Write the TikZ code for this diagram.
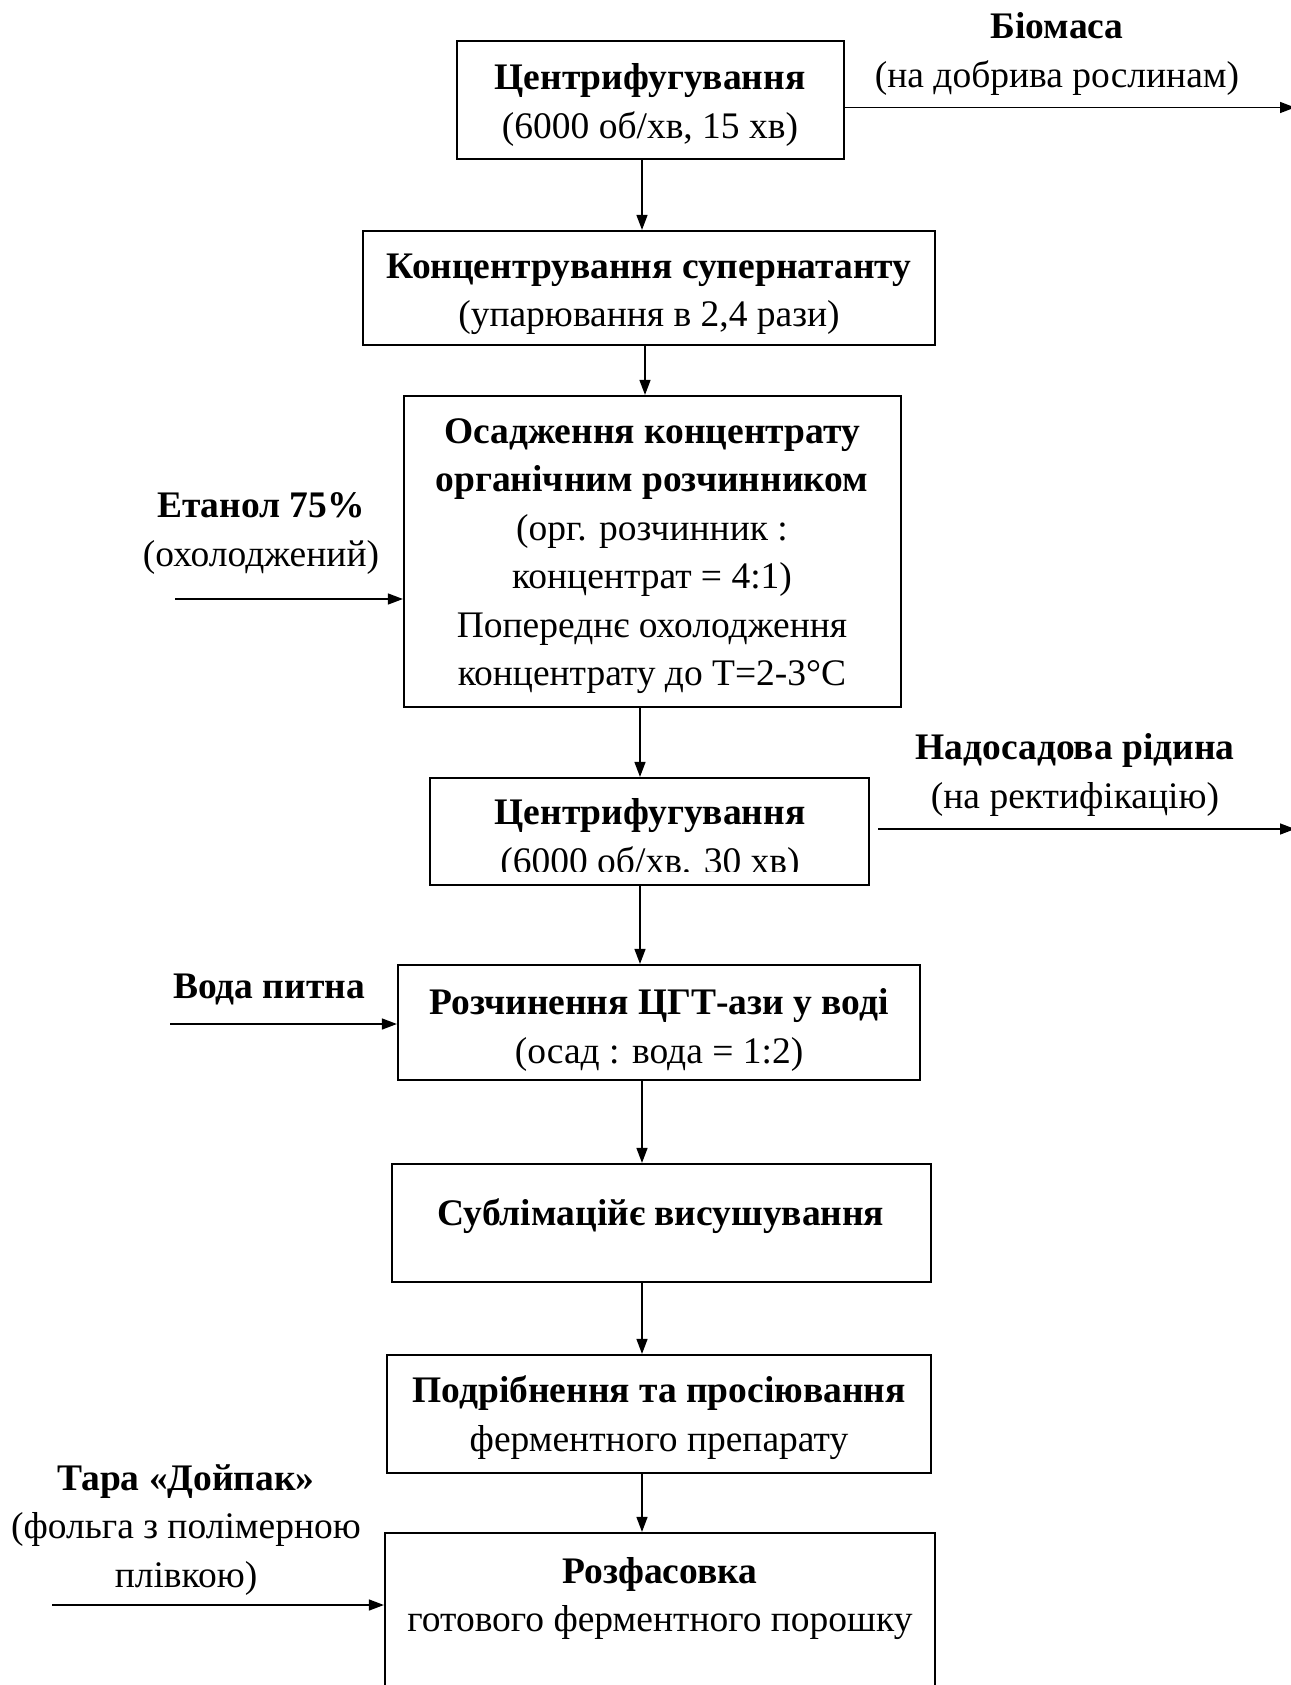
\documentclass[tikz,border=0pt]{standalone}
\usepackage{fontspec}
\setmainfont{Liberation Serif}
\usetikzlibrary{arrows.meta}
\begin{document}
\begin{tikzpicture}[x=1pt,y=-1pt,
  every node/.style={inner sep=0pt},
  txt/.style={font=\fontsize{37.5}{48.5}\selectfont, align=center},
  procbox/.style={draw, line width=2.2pt, rectangle},
  flow/.style={line width=1.4pt, -{Triangle[length=15pt,width=11pt]}}]
\useasboundingbox (0,0) rectangle (1290,1685);
\fill[white] (0,0) rectangle (1290,1685);

% process boxes
\node[procbox, minimum width=387pt, minimum height=118pt] (b1) at (650.5,100) {};
\node[procbox, minimum width=572pt, minimum height=114pt] (b2) at (649,288) {};
\node[procbox, minimum width=497pt, minimum height=311pt] (b3) at (652.5,551.5) {};
\node[procbox, minimum width=439pt, minimum height=107pt] (b4) at (649.5,831.5) {};
\node[procbox, minimum width=522pt, minimum height=115pt] (b5) at (659,1022.5) {};
\node[procbox, minimum width=539pt, minimum height=118pt] (b6) at (661.5,1223) {};
\node[procbox, minimum width=544pt, minimum height=118pt] (b7) at (659,1414) {};
\node[procbox, minimum width=550pt, minimum height=177pt] (b8) at (660,1621.5) {};

% box texts
\node[txt] (t1) at (650,105) {\textbf{Центрифугування}\\(6000 об/хв, 15 хв)};
\node[txt] (t2) at (649,294.5) {\textbf{Концентрування супернатанту}\\(упарювання в 2,4 рази)};
\node[txt] (t3) at (652,556) {\textbf{Осадження концентрату}\\\textbf{органічним розчинником}\\(орг. розчинник :\\концентрат = 4:1)\\Попереднє охолодження\\концентрату до Т=2-3°С};
\begin{scope}
  \clip (431,779) rectangle (868,871);
  \node[txt] (t4) at (650,840) {\textbf{Центрифугування}\\(6000 об/хв. 30 хв)};
\end{scope}
\node[txt] (t5) at (659,1030) {\textbf{Розчинення ЦГТ-ази у воді}\\(осад : вода = 1:2)};
\node[txt] (t6) at (661,1216.5) {\textbf{Сублімаційє висушування}};
\node[txt] (t7) at (659,1417.5) {\textbf{Подрібнення та просіювання}\\ферментного препарату};
\node[txt] (t8) at (660,1598.5) {\textbf{Розфасовка}\\готового ферментного порошку};

% side streams
\node[txt] (s1) at (1057,54) {\textbf{Біомаса}\\(на добрива рослинам)};
\node[txt] (s2) at (261,533.5) {\textbf{Етанол 75\%}\\(охолоджений)};
\node[txt] (s3) at (1075,775) {\textbf{Надосадова рідина}\\(на ректифікацію)};
\node[txt] (s4) at (269,989.5) {\textbf{Вода питна}};
\node[txt] (s5) at (186,1530) {\textbf{Тара «Дойпак»}\\(фольга з полімерною\\плівкою)};

% arrow columns and free ends
\coordinate (c1) at (642,0);
\coordinate (c2) at (645,0);
\coordinate (c3) at (640,0);
\coordinate (c5) at (642,0);
\coordinate (o1) at (1295,107.5);
\coordinate (o2) at (1295,829);
\coordinate (i1) at (175,599);
\coordinate (i2) at (170,1024);
\coordinate (i3) at (52,1605);

% main flow
\draw[flow] (b1.south -| c1) -- (b2.north -| c1);
\draw[flow] (b2.south -| c2) -- (b3.north -| c2);
\draw[flow] (b3.south -| c3) -- (b4.north -| c3);
\draw[flow] (b4.south -| c3) -- (b5.north -| c3);
\draw[flow] (b5.south -| c5) -- (b6.north -| c5);
\draw[flow] (b6.south -| c5) -- (b7.north -| c5);
\draw[flow] (b7.south -| c5) -- (b8.north -| c5);

% outputs
\draw[flow] (b1.east |- o1) -- (o1);
\draw[flow] ([xshift=8pt]b4.east |- o2) -- (o2);

% inputs
\draw[flow] (i1) -- (i1 -| b3.west);
\draw[flow] (i2) -- (i2 -| b5.west);
\draw[flow] (i3) -- (i3 -| b8.west);
\end{tikzpicture}
\end{document}
